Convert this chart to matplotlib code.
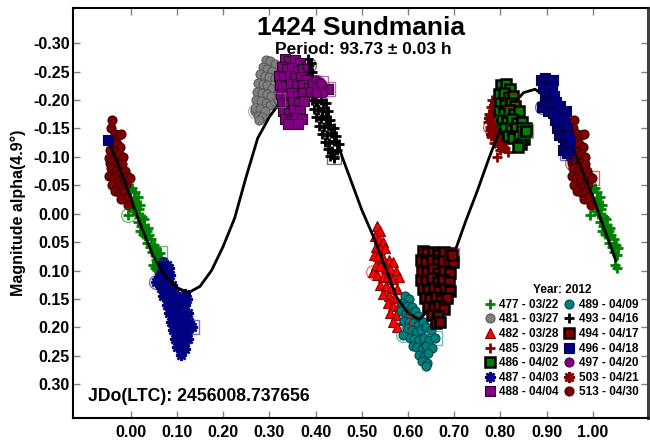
import matplotlib
matplotlib.use("Agg")
import matplotlib.pyplot as plt
from matplotlib.lines import Line2D
import numpy as np

plt.rcParams['font.family'] = ['Liberation Sans', 'DejaVu Sans']
plt.rcParams['font.weight'] = 'bold'
plt.rcParams['axes.unicode_minus'] = False

# ---------------- text ----------------
title = "1424 Sundmania"
subtitle = "Period: 93.73 \u00b1 0.03 h"
ylabel = "Magnitude alpha(4.9\u00b0)"
jd_text = "JDo(LTC): 2456008.737656"
legend_title = "Year: 2012"

xticks = [0.0, 0.1, 0.2, 0.3, 0.4, 0.5, 0.6, 0.7, 0.8, 0.9, 1.0]
yticks = [-0.30, -0.25, -0.20, -0.15, -0.10, -0.05, 0.0, 0.05, 0.10, 0.15, 0.20, 0.25, 0.30]

# ---------------- Fourier fit curve ----------------
fit_phase = [-0.05, -0.025, 0.0, 0.025, 0.05, 0.075, 0.1, 0.125, 0.15, 0.175, 0.2, 0.225,
             0.25, 0.275, 0.3, 0.325, 0.35, 0.375, 0.4, 0.425, 0.45, 0.475, 0.5, 0.525,
             0.55, 0.575, 0.6, 0.625, 0.65, 0.675, 0.7, 0.725, 0.75, 0.775, 0.8, 0.825,
             0.85, 0.875, 0.9, 0.925, 0.95, 0.975, 1.0, 1.025, 1.05]
fit_mag = [-0.132, -0.083, -0.028, 0.027, 0.076, 0.110, 0.130, 0.139, 0.128, 0.100, 0.058, 0.008,
           -0.065, -0.133, -0.170, -0.198, -0.217, -0.223, -0.200, -0.160, -0.117, -0.062, -0.007, 0.040,
           0.092, 0.146, 0.175, 0.186, 0.165, 0.125, 0.070, 0.013, -0.040, -0.097, -0.150, -0.190,
           -0.213, -0.219, -0.205, -0.172, -0.130, -0.080, -0.030, 0.027, 0.083]

# ---------------- sessions (phase, magnitude) ----------------
s477_ph = [-0.006, -0.002, 0.004, 0.010, 0.002, 0.008, 0.015, 0.020, 0.006, 0.012, 0.018, 0.024, 0.028,
           0.016, 0.022, 0.030, 0.035, 0.026, 0.032, 0.040, 0.045, 0.036, 0.042, 0.050, 0.054, 0.046,
           0.052, 0.060, 0.065, 0.056, 0.062, 0.068, 0.048, 0.053, 0.058, 0.070, 0.011, 0.020, 0.038, 0.063]
s477_mag = [0.002, -0.042, -0.045, -0.038, -0.020, -0.028, -0.030, -0.015, -0.005, 0.000, -0.008, 0.005, 0.010,
            0.015, 0.022, 0.020, 0.030, 0.035, 0.040, 0.038, 0.045, 0.052, 0.058, 0.055, 0.060, 0.068,
            0.072, 0.070, 0.078, 0.082, 0.088, 0.085, 0.090, 0.095, 0.099, 0.092, -0.018, 0.030, 0.025, 0.070]

s481_ph = [0.269, 0.292, 0.302, 0.312, 0.286, 0.296, 0.306, 0.280, 0.290, 0.300, 0.312, 0.322, 0.276, 0.286,
           0.296, 0.306, 0.318, 0.274, 0.284, 0.294, 0.304, 0.272, 0.282, 0.292, 0.302, 0.312, 0.270, 0.280,
           0.290, 0.275, 0.285, 0.278, 0.318]
s481_mag = [-0.180, -0.270, -0.268, -0.264, -0.258, -0.255, -0.252, -0.245, -0.242, -0.240, -0.238, -0.242,
            -0.230, -0.228, -0.226, -0.222, -0.225, -0.215, -0.212, -0.210, -0.208, -0.200, -0.198, -0.195,
            -0.192, -0.196, -0.186, -0.184, -0.180, -0.172, -0.170, -0.165, -0.200]

s482_ph = [0.525, 0.532, 0.540, 0.528, 0.538, 0.546, 0.530, 0.540, 0.550, 0.526, 0.536, 0.546, 0.558, 0.568,
           0.530, 0.540, 0.552, 0.562, 0.574, 0.534, 0.546, 0.556, 0.568, 0.580, 0.540, 0.552, 0.564, 0.576,
           0.546, 0.558, 0.570, 0.556, 0.568, 0.580, 0.562, 0.574, 0.568, 0.576, 0.590]
s482_mag = [0.102, 0.022, 0.030, 0.040, 0.045, 0.050, 0.058, 0.062, 0.060, 0.072, 0.075, 0.078, 0.082, 0.085,
            0.090, 0.092, 0.095, 0.098, 0.100, 0.108, 0.112, 0.110, 0.115, 0.112, 0.125, 0.128, 0.130, 0.132,
            0.142, 0.145, 0.148, 0.158, 0.162, 0.160, 0.175, 0.178, 0.190, 0.200, 0.187]

s485_ph = [0.778, 0.782, 0.788, 0.779, 0.786, 0.794, 0.776, 0.784, 0.792, 0.774, 0.782, 0.790, 0.777, 0.785,
           0.793, 0.780, 0.788, 0.796, 0.786, 0.795, 0.804, 0.800, 0.810, 0.816, 0.793, 0.822]
s485_mag = [-0.153, -0.200, -0.196, -0.188, -0.185, -0.190, -0.175, -0.172, -0.176, -0.162, -0.160, -0.164,
            -0.148, -0.145, -0.150, -0.136, -0.133, -0.138, -0.124, -0.120, -0.125, -0.112, -0.115, -0.108,
            -0.100, -0.199]

s486_ph = [0.803, 0.801, 0.812, 0.820, 0.798, 0.808, 0.818, 0.828, 0.800, 0.810, 0.822, 0.832, 0.798, 0.808,
           0.818, 0.830, 0.840, 0.804, 0.814, 0.826, 0.836, 0.846, 0.810, 0.822, 0.834, 0.846, 0.856, 0.816,
           0.828, 0.840, 0.850, 0.845, 0.838, 0.856]
s486_mag = [-0.165, -0.226, -0.228, -0.220, -0.210, -0.212, -0.205, -0.208, -0.195, -0.192, -0.195, -0.190,
            -0.180, -0.178, -0.182, -0.176, -0.180, -0.165, -0.162, -0.166, -0.160, -0.162, -0.150, -0.148,
            -0.150, -0.146, -0.150, -0.136, -0.134, -0.136, -0.132, -0.122, -0.118, -0.146]

s487_ph = [0.056, 0.070, 0.078, 0.083, 0.068, 0.075, 0.085, 0.062, 0.072, 0.080, 0.090, 0.066, 0.076, 0.086,
           0.096, 0.070, 0.082, 0.092, 0.102, 0.110, 0.118, 0.122, 0.078, 0.088, 0.098, 0.108, 0.118, 0.084,
           0.094, 0.104, 0.114, 0.124, 0.088, 0.098, 0.108, 0.118, 0.126, 0.092, 0.102, 0.112, 0.122, 0.096,
           0.106, 0.116, 0.124, 0.100, 0.110, 0.118, 0.108, 0.132]
s487_mag = [0.120, 0.085, 0.090, 0.095, 0.100, 0.105, 0.108, 0.112, 0.118, 0.122, 0.125, 0.130, 0.135, 0.138,
            0.140, 0.145, 0.150, 0.152, 0.148, 0.155, 0.142, 0.150, 0.160, 0.165, 0.168, 0.165, 0.160, 0.175,
            0.180, 0.178, 0.182, 0.175, 0.190, 0.195, 0.192, 0.198, 0.190, 0.205, 0.210, 0.212, 0.208, 0.220,
            0.225, 0.228, 0.220, 0.235, 0.240, 0.238, 0.248, 0.199]

s488_ph = [0.325, 0.333, 0.343, 0.355, 0.366, 0.328, 0.338, 0.350, 0.362, 0.372, 0.322, 0.332, 0.344, 0.356,
           0.368, 0.380, 0.324, 0.336, 0.348, 0.360, 0.372, 0.385, 0.395, 0.326, 0.338, 0.350, 0.362, 0.374,
           0.390, 0.328, 0.340, 0.352, 0.364, 0.376, 0.330, 0.342, 0.354, 0.366, 0.334, 0.346, 0.358, 0.370,
           0.340, 0.362, 0.427]
s488_mag = [-0.215, -0.272, -0.268, -0.270, -0.265, -0.258, -0.255, -0.256, -0.252, -0.255, -0.242, -0.240,
            -0.242, -0.238, -0.240, -0.236, -0.226, -0.225, -0.228, -0.224, -0.226, -0.222, -0.228, -0.210,
            -0.208, -0.212, -0.208, -0.212, -0.214, -0.195, -0.192, -0.196, -0.194, -0.198, -0.180, -0.178,
            -0.182, -0.180, -0.166, -0.164, -0.168, -0.166, -0.158, -0.157, -0.220]

s489_ph = [0.590, 0.594, 0.602, 0.588, 0.598, 0.608, 0.585, 0.595, 0.605, 0.615, 0.622, 0.592, 0.602, 0.612,
           0.622, 0.632, 0.598, 0.608, 0.618, 0.628, 0.640, 0.650, 0.604, 0.614, 0.624, 0.634, 0.646, 0.610,
           0.620, 0.630, 0.640, 0.652, 0.624, 0.634, 0.644, 0.630, 0.642, 0.640, 0.659]
s489_mag = [0.213, 0.145, 0.150, 0.158, 0.162, 0.165, 0.172, 0.175, 0.178, 0.172, 0.180, 0.188, 0.190, 0.192,
            0.195, 0.190, 0.202, 0.205, 0.208, 0.205, 0.200, 0.205, 0.218, 0.220, 0.222, 0.218, 0.222, 0.232,
            0.235, 0.238, 0.232, 0.236, 0.248, 0.250, 0.246, 0.260, 0.262, 0.268, 0.219]

s493_ph = [0.385, 0.384, 0.390, 0.382, 0.392, 0.386, 0.396, 0.384, 0.394, 0.404, 0.388, 0.398, 0.408, 0.392,
           0.402, 0.412, 0.422, 0.396, 0.406, 0.416, 0.428, 0.402, 0.412, 0.422, 0.432, 0.408, 0.418, 0.428,
           0.440, 0.414, 0.424, 0.434, 0.444, 0.420, 0.430, 0.440, 0.450, 0.426, 0.436, 0.446, 0.432, 0.440, 0.439]
s493_mag = [-0.262, -0.272, -0.266, -0.255, -0.250, -0.240, -0.236, -0.228, -0.225, -0.228, -0.214, -0.210,
            -0.214, -0.200, -0.196, -0.200, -0.195, -0.185, -0.182, -0.186, -0.180, -0.170, -0.166, -0.170,
            -0.165, -0.155, -0.152, -0.156, -0.150, -0.140, -0.138, -0.142, -0.136, -0.126, -0.124, -0.128,
            -0.122, -0.114, -0.110, -0.112, -0.102, -0.098, -0.100]

s494_ph = [0.633, 0.632, 0.642, 0.654, 0.666, 0.678, 0.690, 0.628, 0.640, 0.652, 0.664, 0.676, 0.688, 0.698,
           0.630, 0.642, 0.654, 0.666, 0.678, 0.690, 0.628, 0.640, 0.652, 0.664, 0.676, 0.688, 0.632, 0.644,
           0.656, 0.668, 0.680, 0.690, 0.636, 0.648, 0.660, 0.672, 0.684, 0.644, 0.656, 0.668, 0.678, 0.652,
           0.664, 0.660, 0.670, 0.695]
s494_mag = [0.096, 0.066, 0.070, 0.068, 0.072, 0.068, 0.070, 0.082, 0.085, 0.082, 0.086, 0.084, 0.088, 0.085,
            0.100, 0.102, 0.098, 0.104, 0.100, 0.104, 0.116, 0.118, 0.114, 0.120, 0.116, 0.120, 0.132, 0.135,
            0.130, 0.136, 0.132, 0.136, 0.148, 0.150, 0.146, 0.152, 0.148, 0.164, 0.166, 0.162, 0.168, 0.178,
            0.180, 0.192, 0.190, 0.073]

s496_ph = [0.890, 0.888, 0.897, 0.906, 0.914, 0.892, 0.902, 0.912, 0.896, 0.906, 0.916, 0.900, 0.910, 0.920,
           0.928, 0.904, 0.914, 0.924, 0.934, 0.942, 0.918, 0.928, 0.938, 0.922, 0.932, 0.944, 0.926, 0.936,
           0.946, 0.940, 0.948, 0.951, 0.936, 0.946, 0.944]
s496_mag = [-0.188, -0.235, -0.238, -0.232, -0.236, -0.222, -0.220, -0.222, -0.208, -0.205, -0.208, -0.195,
            -0.192, -0.196, -0.190, -0.180, -0.178, -0.182, -0.176, -0.180, -0.165, -0.162, -0.166, -0.150,
            -0.148, -0.150, -0.138, -0.135, -0.138, -0.122, -0.125, -0.130, -0.112, -0.110, -0.106]

s497_ph = [0.404, 0.400, 0.408, 0.414, 0.404, 0.410, 0.416, 0.402, 0.412]
s497_mag = [-0.232, -0.236, -0.232, -0.226, -0.222, -0.216, -0.212, -0.212, -0.230]

s503_ph = [0.784, 0.780, 0.790, 0.776, 0.798, 0.806, 0.786, 0.781]
s503_mag = [-0.180, -0.140, -0.155, -0.168, -0.130, -0.118, -0.192, -0.150]

s513_ph = [0.955, 0.960, 0.958, 0.966, 0.975, 0.980, 0.962, 0.970, 0.978, 0.956, 0.966, 0.975, 0.984, 0.953,
           0.962, 0.972, 0.982, 0.958, 0.968, 0.978, 0.988, 0.954, 0.964, 0.974, 0.985, 0.992, 0.960, 0.970,
           0.980, 0.990, 0.966, 0.976, 0.986, 0.980, 0.992, 0.995, 0.998]
s513_mag = [-0.089, -0.165, -0.150, -0.140, -0.138, -0.140, -0.128, -0.122, -0.118, -0.112, -0.108, -0.105,
            -0.100, -0.098, -0.095, -0.090, -0.088, -0.080, -0.076, -0.072, -0.075, -0.066, -0.062, -0.058,
            -0.060, -0.066, -0.050, -0.046, -0.048, -0.052, -0.040, -0.036, -0.038, -0.026, -0.030, -0.016, -0.062]

ast = (8, 2, 0)
# label, phase, mag, marker, face, edge, size, edge width, zorder, open start/end markers
sessions = [
    ("477 - 03/22", s477_ph, s477_mag, '+', '#008000', '#008000', 7, 2.0, 2, True),
    ("481 - 03/27", s481_ph, s481_mag, 'o', '#808080', '#5a5a5a', 6.5, 0.8, 2, True),
    ("482 - 03/28", s482_ph, s482_mag, '^', '#ff0000', '#800000', 7, 0.8, 2, True),
    ("485 - 03/29", s485_ph, s485_mag, '+', '#800000', '#800000', 7, 2.0, 2, True),
    ("486 - 04/02", s486_ph, s486_mag, 's', '#008000', '#000000', 6.5, 1.8, 4, True),
    ("487 - 04/03", s487_ph, s487_mag, ast, '#000080', '#000080', 8, 1.8, 2, True),
    ("488 - 04/04", s488_ph, s488_mag, 's', '#800080', '#300030', 6.5, 0.8, 4, True),
    ("489 - 04/09", s489_ph, s489_mag, 'o', '#008080', '#004545', 6.5, 0.8, 2, True),
    ("493 - 04/16", s493_ph, s493_mag, '+', '#000000', '#000000', 7, 2.0, 2, True),
    ("494 - 04/17", s494_ph, s494_mag, 's', '#800000', '#000000', 6.5, 1.8, 4, True),
    ("496 - 04/18", s496_ph, s496_mag, 's', '#000080', '#000040', 6.5, 0.8, 4, True),
    ("497 - 04/20", s497_ph, s497_mag, 'o', '#800080', '#400040', 6.5, 0.8, 4, True),
    ("503 - 04/21", s503_ph, s503_mag, ast, '#800000', '#800000', 8, 1.8, 2, False),
    ("513 - 04/30", s513_ph, s513_mag, 'o', '#800000', '#400000', 6.5, 0.8, 2, True),
]

PH_MIN, PH_MAX = -0.05, 1.055

fig = plt.figure(figsize=(6.5, 4.41), dpi=100)
ax = fig.add_axes([73.3 / 650, 1 - 417.7 / 441, (648.3 - 73.3) / 650, (417.7 - 8) / 441])

for (lab, ph, mg, mk, fc, ec, ms, mew, z, openm) in sessions:
    ph = np.asarray(ph, float)
    mg = np.asarray(mg, float)
    xs, ys = [ph], [mg]
    for sh in (-1.0, 1.0):
        sel = (ph + sh >= PH_MIN) & (ph + sh <= PH_MAX)
        xs.append(ph[sel] + sh)
        ys.append(mg[sel])
    x = np.concatenate(xs)
    y = np.concatenate(ys)
    ax.plot(x, y, linestyle='none', marker=mk, markersize=ms, markerfacecolor=fc,
            markeredgecolor=ec, markeredgewidth=mew, zorder=z)
    if openm:
        ax.plot([ph[0]], [mg[0]], linestyle='none', marker='o', markersize=10, markerfacecolor='none',
                markeredgecolor=fc, markeredgewidth=1.0, alpha=0.55, zorder=5)
        ax.plot([ph[-1]], [mg[-1]], linestyle='none', marker='s', markersize=10, markerfacecolor='none',
                markeredgecolor=fc, markeredgewidth=1.0, alpha=0.55, zorder=5)

ax.plot(fit_phase, fit_mag, color='black', lw=2.0, zorder=3, solid_joinstyle='round')

ax.set_xlim(-0.124, 1.120)
ax.set_ylim(0.359, -0.362)
ax.set_xticks(xticks)
ax.set_yticks(yticks)
ax.set_xticklabels([f"{v:.2f}" for v in xticks])
ax.set_yticklabels([f"{v:.2f}" for v in yticks])
ax.tick_params(direction='in', length=5, width=1, color='#808080', labelsize=11.5,
               top=True, right=True, pad=2.5)
ax.tick_params(axis='x', pad=5)
for t in ax.get_xticklabels() + ax.get_yticklabels():
    t.set_fontweight('bold')
for side in ('left', 'bottom', 'top'):
    ax.spines[side].set_color('black')
    ax.spines[side].set_linewidth(1.5)
ax.spines['right'].set_color('#404040')
ax.spines['right'].set_linewidth(2.2)

ax.set_ylabel(ylabel, fontsize=11.5, fontweight='bold', labelpad=5)

fig.text(0.556, 1 - 35 / 441, title, fontsize=19, fontweight='bold', ha='center', va='baseline')
fig.text(0.559, 1 - 54 / 441, subtitle, fontsize=12.5, fontweight='bold', ha='center', va='baseline')
ax.text(88 / 650, 1 - 401 / 441, jd_text, transform=fig.transFigure, fontsize=12.7,
        fontweight='bold', ha='left', va='baseline')

handles = []
for (lab, ph, mg, mk, fc, ec, ms, mew, z, openm) in sessions:
    handles.append(Line2D([], [], linestyle='none', marker=mk, markersize=ms, markerfacecolor=fc,
                          markeredgecolor=ec, markeredgewidth=mew, label=lab))
leg = ax.legend(handles=handles, ncol=2, loc='lower right', bbox_to_anchor=(0.983, 0.047),
                frameon=False, prop={'weight': 'bold', 'size': 8.5}, title=legend_title,
                title_fontproperties={'weight': 'bold', 'size': 8.5}, handlelength=0.8,
                handletextpad=0.4, columnspacing=0.5, labelspacing=0.22, borderpad=0,
                borderaxespad=0)

fig.savefig("out.png", dpi=100)
